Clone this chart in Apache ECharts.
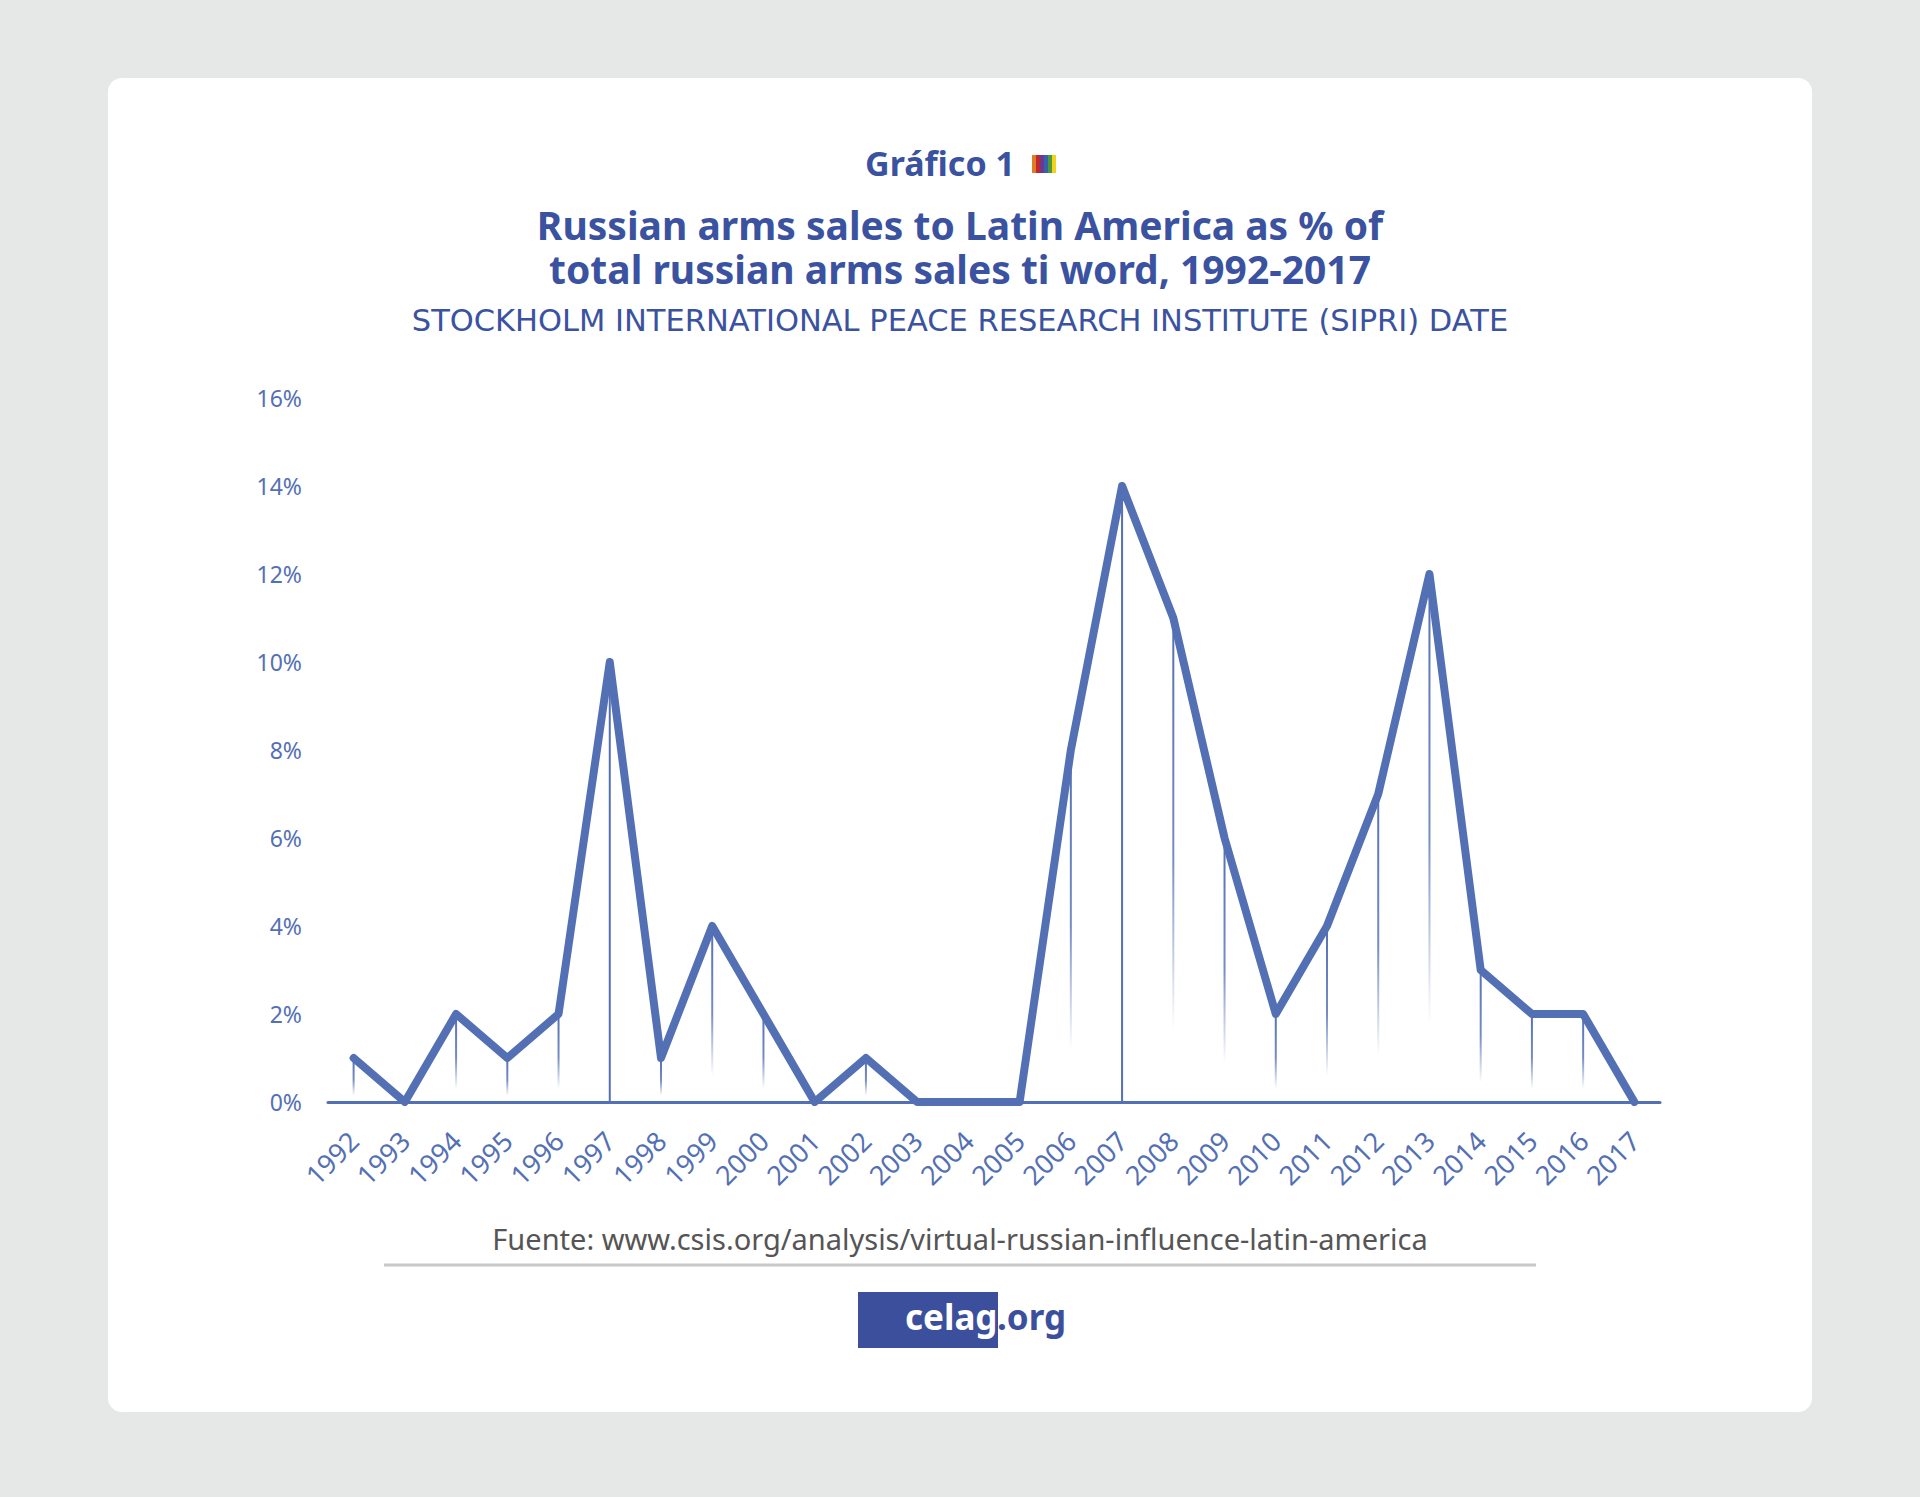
<!DOCTYPE html>
<html>
<head>
<meta charset="utf-8">
<title>Russian arms sales to Latin America</title>
<script src="https://cdn.jsdelivr.net/npm/echarts@6/dist/echarts.min.js"></script>
<style>
  html, body { margin: 0; padding: 0; background: #e6e8e7; }
  #chart { width: 1920px; height: 1497px; }
</style>
</head>
<body>
<div id="chart"></div>
<script>
// datos
const years = ['1992', '1993', '1994', '1995', '1996', '1997', '1998', '1999', '2000', '2001',
    '2002', '2003', '2004', '2005', '2006', '2007', '2008', '2009', '2010', '2011',
    '2012', '2013', '2014', '2015', '2016', '2017'];
const sharePct = [1, 0, 2, 1, 2, 10, 1, 4, 2, 0,
    1, 0, 0, 0, 8, 14, 11, 6, 2, 4,
    7, 12, 3, 2, 2, 0];
// años cuya línea vertical llega entera al eje
const solidDrops = ['1997', '2007'];
const yTicks = [0, 2, 4, 6, 8, 10, 12, 14, 16];

const BLUE = '#5470b4';
const DARK = '#3a52a0';
const FONT = '"Noto Sans", "Open Sans", sans-serif';
const WIDE = '"DejaVu Sans", "Noto Sans", sans-serif';

const chart = echarts.init(document.getElementById('chart'), null, { renderer: 'svg' });

const fadeColor = new echarts.graphic.LinearGradient(0, 0, 0, 1, [
    { offset: 0, color: 'rgba(84,112,180,1)' },
    { offset: 0.5, color: 'rgba(84,112,180,0.8)' },
    { offset: 0.85, color: 'rgba(84,112,180,0)' }
]);

const dropData = sharePct.map((v, i) => ({
    value: v,
    itemStyle: { color: solidDrops.includes(years[i]) ? BLUE : fadeColor }
}));

const stripes = ['#e07b2a', '#c0272d', '#6b3a8c', '#3a5fae', '#4a9a3c', '#f2d21b'];

// texto centrado (cabecera y pie)
function centerText(text, x, y, font, fill) {
    return {
        type: 'text',
        style: { x: x, y: y, text: text, font: font, fill: fill, align: 'center', verticalAlign: 'middle' }
    };
}

const option = {
    backgroundColor: '#e6e8e7',
    animation: false,
    graphic: [
        {
            type: 'rect', z: -10, silent: true,
            shape: { x: 108, y: 78, width: 1704, height: 1334, r: 14 },
            style: { fill: '#ffffff' }
        },
        centerText('Gráfico 1', 940, 163, 'bold 34px ' + FONT, DARK),
        {
            type: 'group', left: 1032, top: 155,
            children: stripes.map((c, i) => ({
                type: 'rect',
                shape: { x: i * 4, y: 0, width: 4, height: 18 },
                style: { fill: c }
            }))
        },
        centerText('Russian arms sales to Latin America as % of', 960, 224, 'bold 39px ' + FONT, DARK),
        centerText('total russian arms sales ti word, 1992-2017', 960, 268, 'bold 39px ' + FONT, DARK),
        centerText('STOCKHOLM INTERNATIONAL PEACE RESEARCH INSTITUTE (SIPRI) DATE', 960, 320, '30.5px ' + WIDE, DARK),
        centerText('Fuente: www.csis.org/analysis/virtual-russian-influence-latin-america', 960, 1238, '29px ' + FONT, '#555555'),
        {
            type: 'line',
            shape: { x1: 384, y1: 1265, x2: 1536, y2: 1265 },
            style: { stroke: '#c8c8c8', lineWidth: 3 }
        },
        {
            type: 'rect',
            shape: { x: 858, y: 1292, width: 140, height: 56 },
            style: { fill: '#3b4f9c' }
        },
        {
            type: 'text', left: 905, top: 1299,
            style: { text: 'celag', fill: '#ffffff', font: 'bold 35px ' + FONT }
        },
        {
            type: 'text', left: 997, top: 1299,
            style: { text: '.org', fill: '#3b4f9c', font: 'bold 35px ' + FONT }
        }
    ],
    grid: { left: 328, right: 260, top: 398, bottom: 395 },
    xAxis: {
        type: 'category',
        data: years,
        boundaryGap: true,
        axisLine: { lineStyle: { color: BLUE, width: 3 } },
        axisTick: { show: false },
        axisLabel: {
            rotate: 45, margin: 34, color: BLUE,
            fontFamily: FONT, fontSize: 27, interval: 0
        }
    },
    yAxis: {
        type: 'value',
        min: yTicks[0],
        max: yTicks[yTicks.length - 1],
        interval: 2,
        axisLine: { show: false },
        axisTick: { show: false },
        splitLine: { show: false },
        axisLabel: {
            formatter: '{value}%', margin: 26, color: BLUE,
            fontFamily: FONT, fontSize: 23
        }
    },
    series: [
        {
            name: 'caída',
            type: 'bar',
            data: dropData,
            barWidth: 2,
            z: 1
        },
        {
            name: '% ventas',
            type: 'line',
            data: sharePct,
            symbol: 'none',
            z: 3,
            lineStyle: { color: BLUE, width: 8, join: 'round', cap: 'round' }
        }
    ]
};

chart.setOption(option);
</script>
</body>
</html>
